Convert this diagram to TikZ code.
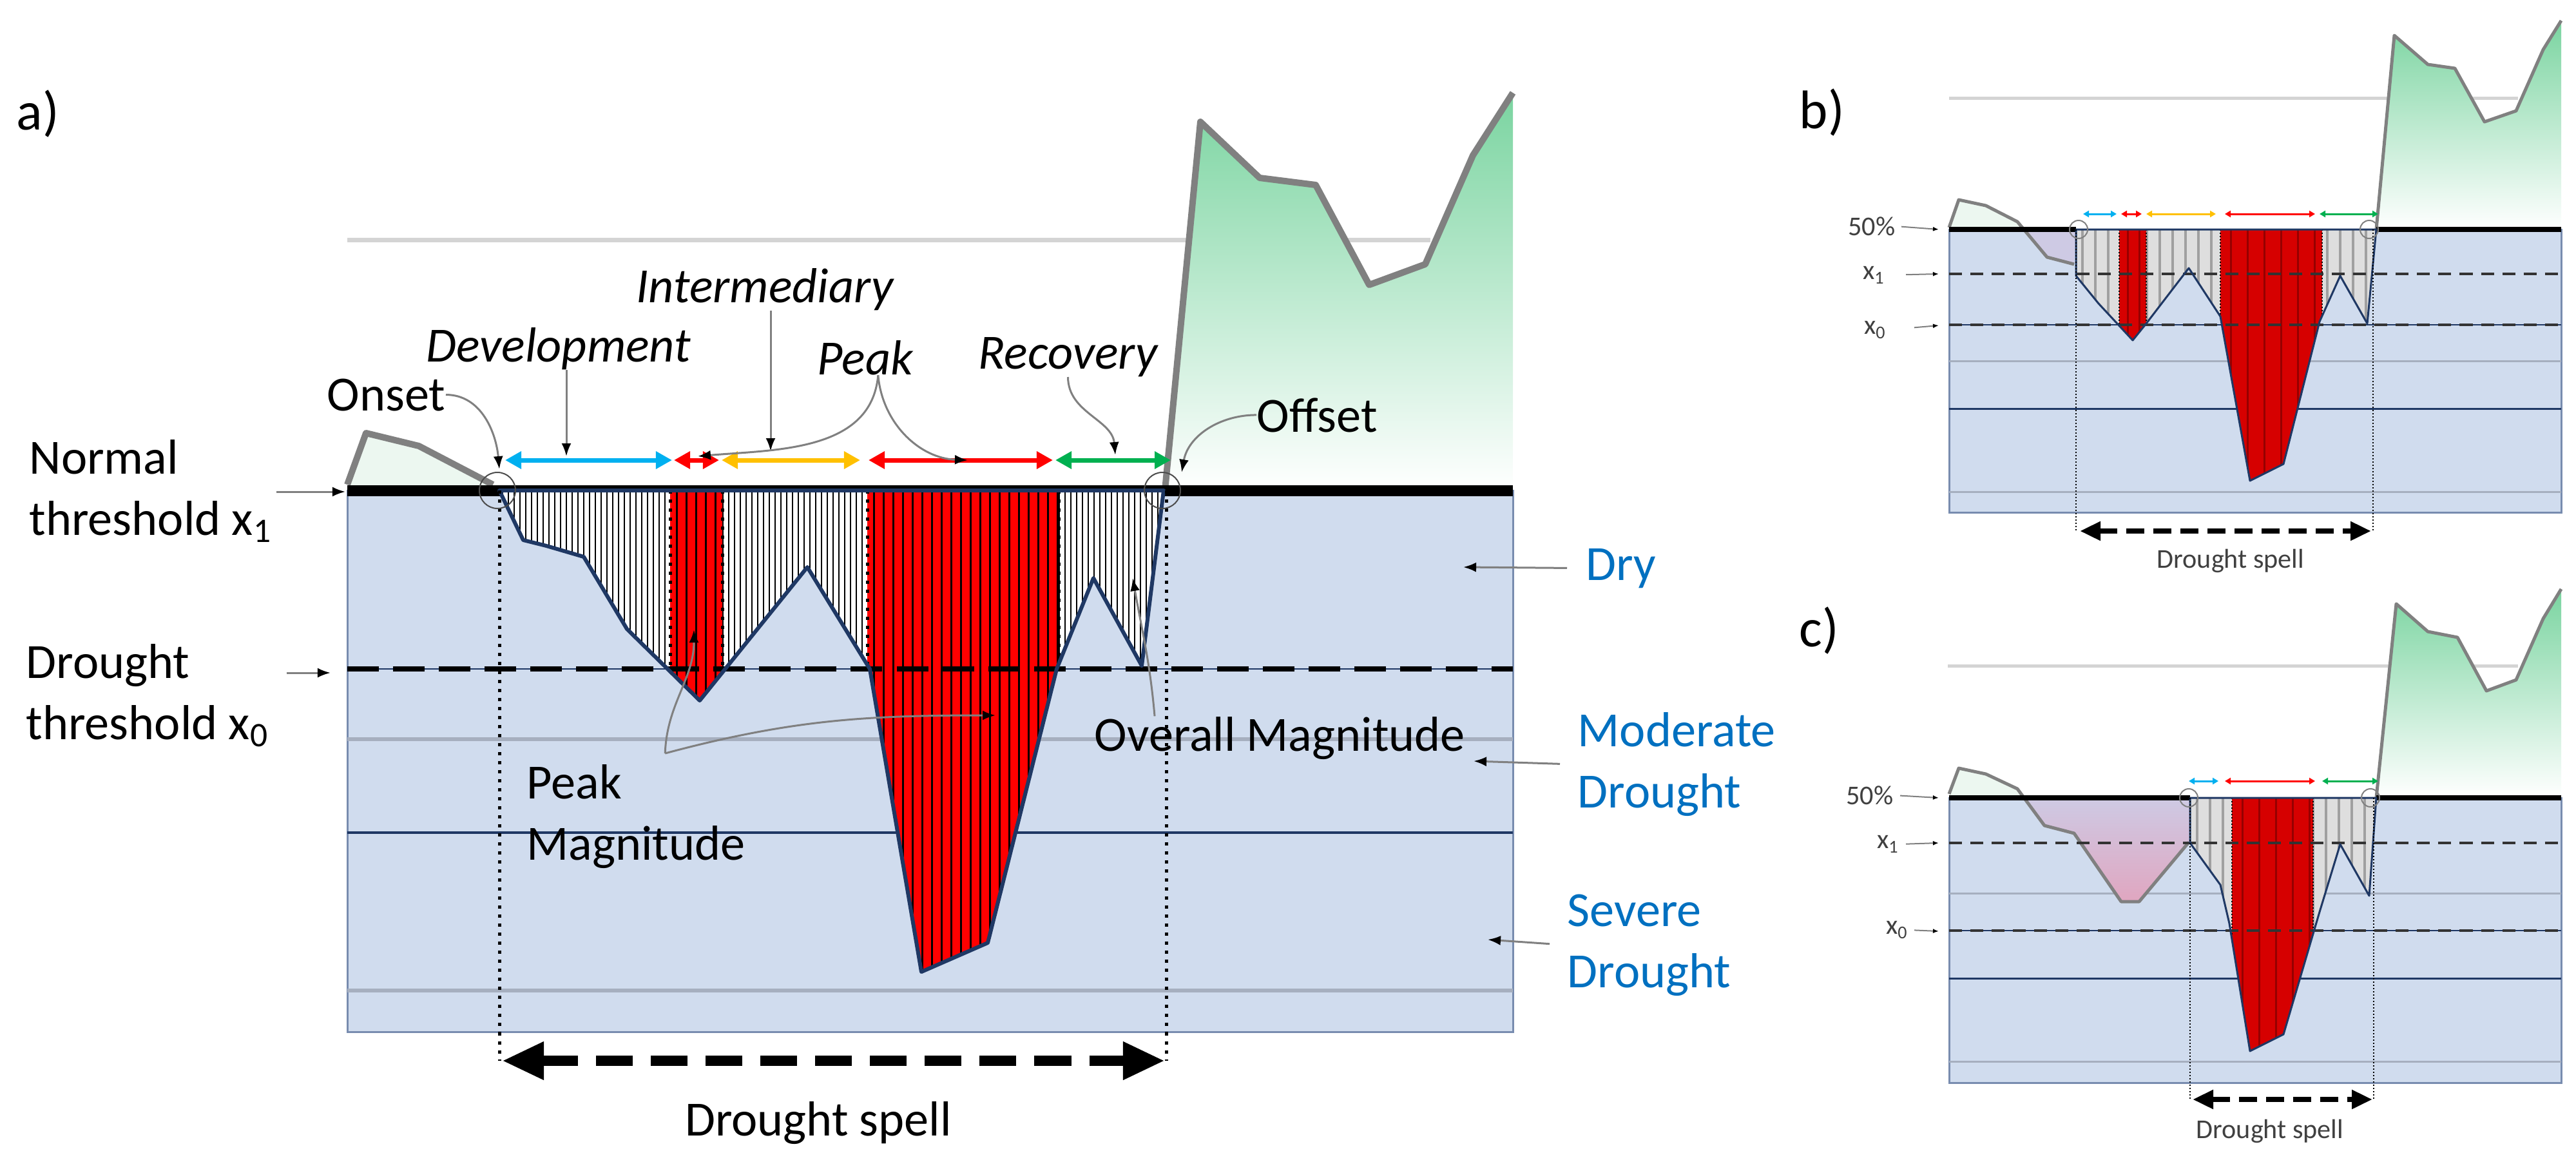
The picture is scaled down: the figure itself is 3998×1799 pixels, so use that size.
\documentclass[tikz,border=0pt]{standalone}
\usepackage{fontspec}
\setmainfont{Carlito}
\usetikzlibrary{arrows.meta}

\definecolor{boxblue}{RGB}{208,220,238}
\definecolor{boxedge}{RGB}{120,140,175}
\definecolor{navy}{RGB}{31,56,100}
\definecolor{zonetext}{RGB}{0,112,192}
\definecolor{curvegray}{RGB}{128,128,128}
\definecolor{topgray}{RGB}{212,212,212}
\definecolor{bandgray}{RGB}{166,175,191}
\definecolor{phblue}{RGB}{0,176,240}
\definecolor{phred}{RGB}{255,0,0}
\definecolor{phyellow}{RGB}{255,192,0}
\definecolor{phgreen}{RGB}{0,176,80}
\definecolor{wetgreen}{RGB}{122,212,160}
\definecolor{bumpgreen}{RGB}{236,247,240}
\definecolor{lavender}{RGB}{206,202,228}
\definecolor{pinkdry}{RGB}{224,166,192}
\definecolor{smalltext}{RGB}{64,64,64}
\definecolor{hatchgray}{RGB}{222,222,222}
\definecolor{hatchdark}{RGB}{160,160,160}
\definecolor{darkred}{RGB}{214,0,0}
\definecolor{deepred}{RGB}{150,0,0}

\newcommand\bigfont{\fontsize{21.7pt}{27pt}\selectfont}
\newcommand\tagfont{\fontsize{24pt}{28pt}\selectfont}
\newcommand\smallfont{\fontsize{12pt}{14pt}\selectfont}

% drought areas below the normal threshold
\newcommand\curveA{(775,761) -- (812,838) -- (848,847) -- (906,864) -- (973,976) -- (1086,1087) -- (1253,880) -- (1350,1038) -- (1430,1508) -- (1533,1463) -- (1640,1038) -- (1697,897) -- (1772,1033) -- (1806,761) -- cycle}
\newcommand\curveB{(3222,356) -- (3222,428) -- (3257,471) -- (3310,528) -- (3331,502) -- (3397,416) -- (3446,491) -- (3492,746) -- (3544,720) -- (3600,499) -- (3632,428) -- (3674,502) -- (3688,356) -- cycle}
\newcommand\curveC{(3399,1238) -- (3399,1308) -- (3446,1373) -- (3460,1433) -- (3492,1631) -- (3544,1605) -- (3600,1415) -- (3632,1310) -- (3677,1390) -- (3688,1238) -- cycle}

\begin{document}
\begin{tikzpicture}[x=0.01cm,y=-0.01cm,
    lbl/.style={inner sep=0pt, font=\bigfont},
    phaselbl/.style={lbl, font=\bigfont\itshape},
    zone/.style={lbl, text=zonetext, align=left},
    tag/.style={inner sep=0pt, font=\tagfont},
    smalllbl/.style={inner sep=0pt, font=\smallfont, text=smalltext},
    ann/.style={draw=curvegray, line width=0.03cm, -{Latex[length=0.2cm,width=0.15cm,color=black]}},
    annsmall/.style={draw=curvegray, line width=0.02cm, -{Latex[length=0.09cm,width=0.07cm,color=black]}},
    phase/.style={line width=0.07cm, {Triangle[length=0.25cm,width=0.26cm]}-{Triangle[length=0.25cm,width=0.26cm]}},
    phasesmall/.style={line width=0.03cm, {Triangle[length=0.09cm,width=0.1cm]}-{Triangle[length=0.09cm,width=0.1cm]}},
    spell/.style={line width=0.16cm, dash pattern=on 0.57cm off 0.28cm, {Triangle[length=0.65cm,width=0.55cm]}-{Triangle[length=0.65cm,width=0.55cm]}},
    spellsmall/.style={line width=0.08cm, dash pattern=on 0.28cm off 0.14cm, {Triangle[length=0.32cm,width=0.28cm]}-{Triangle[length=0.32cm,width=0.28cm]}},
    classbox/.style={fill=boxblue, draw=boxedge, line width=0.03cm},
    band/.style={draw=bandgray, line width=0.06cm},
    navyband/.style={draw=navy, line width=0.04cm},
    topline/.style={draw=topgray, line width=0.07cm},
    wetline/.style={draw=curvegray, line width=0.1cm, line join=round},
    droughtline/.style={draw=navy, line width=0.06cm, line join=round},
    thr/.style={line width=0.17cm},
    thrdash/.style={line width=0.08cm, dash pattern=on 0.49cm off 0.22cm},
    dotv/.style={line width=0.05cm, dash pattern=on 0.05cm off 0.09cm},
    ring/.style={draw=black!70, line width=0.02cm},
    hatch/.style={line width=0.02cm},
    hatchred/.style={line width=0.03cm}]
\useasboundingbox (0,0) rectangle (3998,1799);

%%%%%%%%%% panel a %%%%%%%%%%
\draw[topline] (539,372) -- (2220,372);
%Shape: class box
\draw[classbox] (539,761) rectangle (2348,1601);
\draw[band] (539,1147) -- (2348,1147);
\draw[band] (539,1537) -- (2348,1537);
\draw[navyband] (539,1292) -- (2348,1292);
\draw[navy, line width=0.02cm] (539,1038) -- (2348,1038);
% wet periods
\fill[bumpgreen] (539,761) -- (568,672) -- (650,692) -- (765,752) -- (775,761) -- cycle;
\draw[wetline] (539,752) -- (568,672) -- (650,692) -- (765,752);
\shade[top color=wetgreen, bottom color=white] (1808,761) -- (1863,189) -- (1955,276) -- (2042,287) -- (2125,442) -- (2212,410) -- (2286,241) -- (2348,144) -- (2348,761) -- cycle;
\draw[wetline] (1808,761) -- (1863,189) -- (1955,276) -- (2042,287) -- (2125,442) -- (2212,410) -- (2286,241) -- (2348,144);
%Straight Lines: normal threshold
\draw[thr] (539,761) -- (2348,761);
% drought area
\begin{scope}
  \clip \curveA;
  \fill[white] (770,750) rectangle (1815,1520);
  \foreach \x in {780,789,...,1810} \draw[hatch] (\x,750) -- (\x,1520);
  \fill[phred] (1040,750) rectangle (1121,1520);
  \fill[phred] (1346,750) rectangle (1643,1520);
  \foreach \x in {1050,1065,...,1121} \draw[hatchred] (\x,750) -- (\x,1520);
  \foreach \x in {1356,1371,...,1643} \draw[hatchred] (\x,750) -- (\x,1520);
  \foreach \x in {1040,1121,1346,1643} \draw[dotv] (\x,761) -- (\x,1110);
\end{scope}
\draw[thrdash] (539,1038) -- (2348,1038);
\draw[droughtline] \curveA;

% onset and offset
\coordinate (onsetA) at (775,761);
\coordinate (offsetA) at (1810,761);
\coordinate (spellaL) at (779,1646);
\coordinate (spellaR) at (1808,1646);
\draw[dotv] (onsetA) -- (onsetA |- spellaL);
\draw[dotv] (offsetA) -- (offsetA |- spellaR);
\draw[ring] (772,761) circle[radius=28];
\draw[ring] (1804,761) circle[radius=28];
\draw[spell] (spellaL) -- (spellaR);

% phases
\draw[phase, phblue] (784,714) -- (1043,714);
\draw[phase, phred] (1046,714) -- (1116,714);
\draw[phase, phyellow] (1120,714) -- (1335,714);
\draw[phase, phred] (1348,714) -- (1634,714);
\draw[phase, phgreen] (1638,714) -- (1817,714);

% Text Node
\node[tag, anchor=base west] (taga) at (25,201) {a)};
\node[lbl, align=left, anchor=north west] (normal) at (45,682) {Normal\\threshold x\textsubscript{1}};
\node[lbl, align=left, anchor=north west] (dthr) at (40,999) {Drought\\threshold x\textsubscript{0}};
\node[lbl, anchor=base west] (onset) at (507,637) {Onset};
\node[phaselbl, anchor=base west] (dev) at (661,561) {Development};
\node[phaselbl, anchor=base west] (inter) at (987,469) {Intermediary};
\node[phaselbl, anchor=base west] (peak) at (1268,581) {Peak};
\node[phaselbl, anchor=base west] (rec) at (1518,572) {Recovery};
\node[lbl, anchor=base west] (offs) at (1950,670) {Offset};
\node[lbl, anchor=base west] (overall) at (1698,1165) {Overall Magnitude};
\node[lbl, align=left, anchor=north west] (pkmag) at (817,1186) {Peak\\Magnitude};
\node[zone, anchor=base west] (dry) at (2461,900) {Dry};
\node[zone, anchor=north west] (moder) at (2448,1105) {Moderate\\Drought};
\node[zone, anchor=north west] (severe) at (2432,1387) {Severe\\Drought};
\node[lbl, anchor=base] (spella) at (1270,1762) {Drought spell};

% annotation arrows
\coordinate (normtip) at (536,763);
\coordinate (dthrtip) at (513,1044);
\coordinate (onsettip) at (775,728);
\coordinate (devtip) at (879,708);
\coordinate (intertip) at (1196,700);
\coordinate (peaktipL) at (1083,708);
\coordinate (peaktipR) at (1502,714);
\coordinate (rectip) at (1731,706);
\coordinate (offtip) at (1834,733);
\coordinate (ovtip) at (1758,897);
\coordinate (pmtipL) at (1077,977);
\coordinate (pmtipR) at (1545,1110);
\coordinate (drytip) at (2271,880);
\coordinate (modtip) at (2287,1181);
\coordinate (sevtip) at (2309,1458);
\draw[ann, shorten <=0.06cm] (normal.east |- normtip) -- (normtip);
\draw[ann, shorten <=0.27cm] (dthr.east |- dthrtip) -- (dthrtip);
\draw[ann] (onset.east) to[out=0,in=95] (onsettip);
\draw[ann] (dev.south -| devtip) -- (devtip);
\draw[ann] (inter.south -| intertip) -- (intertip);
\draw[ann] ([xshift=0.2cm]peak.south) to[out=-95,in=5] (peaktipL);
\draw[ann] ([xshift=0.2cm]peak.south) to[out=-85,in=178] (peaktipR);
\draw[ann] (rec.south) to[out=-90,in=95] (rectip);
\draw[ann] (offs.west) to[out=180,in=80] (offtip);
\draw[ann] ([xshift=0.94cm]overall.north west) to[out=95,in=-80] (ovtip);
\coordinate (pmapex) at ([shift={(45,-17)}]pkmag.north);
\draw[ann] (pmapex) to[out=88,in=-90] (pmtipL);
\draw[ann] (pmapex) to[out=15,in=180] (pmtipR);
\draw[ann, shorten <=0.29cm] (dry.west) -- (drytip);
\draw[ann, shorten <=0.27cm] (moder.west) -- (modtip);
\draw[ann, shorten <=0.27cm] (severe.west) -- (sevtip);

%%%%%%%%%% panel b %%%%%%%%%%
\draw[topline, line width=0.05cm] (3025,152) -- (3908,152);
\draw[classbox] (3025,356) rectangle (3975,795);
\draw[band, line width=0.03cm] (3025,560) -- (3975,560);
\draw[band, line width=0.03cm] (3025,763) -- (3975,763);
\draw[navyband, line width=0.03cm] (3025,634) -- (3975,634);
\draw[navy, line width=0.015cm] (3025,504) -- (3975,504);
\fill[bumpgreen] (3025,356) -- (3040,310) -- (3082,319) -- (3131,344) -- (3141,356) -- cycle;
\fill[lavender] (3141,356) -- (3177,399) -- (3219,410) -- (3222,356) -- cycle;
\draw[wetline, line width=0.05cm] (3025,353) -- (3040,310) -- (3082,319) -- (3131,344) -- (3177,399) -- (3219,410);
\shade[top color=wetgreen, bottom color=white] (3691,356) -- (3716,55) -- (3768,100) -- (3810,106) -- (3856,189) -- (3905,172) -- (3947,77) -- (3975,32) -- (3975,356) -- cycle;
\draw[wetline, line width=0.05cm] (3688,356) -- (3716,55) -- (3768,100) -- (3810,106) -- (3856,189) -- (3905,172) -- (3947,77) -- (3975,32);
\draw[line width=0.08cm] (3025,356) -- (3222,356);
\draw[line width=0.08cm] (3688,356) -- (3975,356);
\begin{scope}
  \clip \curveB;
  \fill[hatchgray] (3215,350) rectangle (3695,760);
  \foreach \x in {3232,3252,...,3690} \draw[hatchdark, line width=0.035cm] (\x,350) -- (\x,760);
  \fill[darkred] (3289,350) rectangle (3331,760);
  \fill[darkred] (3446,350) rectangle (3604,760);
  \foreach \x in {3302,3320} \draw[deepred, line width=0.03cm] (\x,350) -- (\x,760);
  \foreach \x in {3462,3488,...,3604} \draw[deepred, line width=0.03cm] (\x,350) -- (\x,760);
  \foreach \x in {3289,3331,3446,3604} \draw[dotv, line width=0.02cm, dash pattern=on 0.02cm off 0.03cm] (\x,356) -- (\x,540);
\end{scope}
\draw[thrdash, line width=0.04cm, dash pattern=on 0.2cm off 0.13cm, black!80] (3025,425) -- (3975,425);
\draw[thrdash, line width=0.04cm, dash pattern=on 0.2cm off 0.13cm, black!80] (3025,504) -- (3975,504);
\draw[droughtline, line width=0.03cm] \curveB;
\coordinate (onsetB) at (3222,356);
\coordinate (offsetB) at (3683,356);
\coordinate (spellbL) at (3228,824);
\coordinate (spellbR) at (3680,824);
\draw[dotv, line width=0.02cm, dash pattern=on 0.02cm off 0.03cm] (onsetB) -- (onsetB |- spellbL);
\draw[dotv, line width=0.02cm, dash pattern=on 0.02cm off 0.03cm] (offsetB) -- (offsetB |- spellbR);
\draw[ring, black!50] (3226,356) circle[radius=14];
\draw[ring, black!50] (3677,356) circle[radius=14];
\draw[spellsmall] (spellbL) -- (spellbR);
\draw[phasesmall, phblue] (3233,332) -- (3285,332);
\draw[phasesmall, phred] (3292,332) -- (3324,332);
\draw[phasesmall, phyellow] (3331,332) -- (3439,332);
\draw[phasesmall, phred] (3453,332) -- (3593,332);
\draw[phasesmall, phgreen] (3600,332) -- (3691,332);
% Text Node
\node[tag, anchor=base west] (tagb) at (2792,199) {b)};
\node[smalllbl, anchor=east] (bmid) at (2942,351) {50\%};
\node[smalllbl, anchor=east] (bxone) at (2926,427) {x\textsubscript{1}};
\node[smalllbl, anchor=east] (bxzero) at (2928,512) {x\textsubscript{0}};
\node[smalllbl, anchor=base] (spellb) at (3462,881) {Drought spell};
\coordinate (bmidtip) at (3009,356);
\coordinate (bxonetip) at (3009,425);
\coordinate (bxzerotip) at (3009,505);
\draw[annsmall, shorten <=0.09cm] (bmid.east) -- (bmidtip);
\draw[annsmall, shorten <=0.32cm] (bxone.east) -- (bxonetip);
\draw[annsmall, shorten <=0.43cm] (bxzero.east) -- (bxzerotip);

%%%%%%%%%% panel c %%%%%%%%%%
\draw[topline, line width=0.05cm] (3023,1033) -- (3908,1033);
\draw[classbox] (3025,1238) rectangle (3975,1680);
\draw[band, line width=0.03cm] (3025,1386) -- (3975,1386);
\draw[band, line width=0.03cm] (3025,1647) -- (3975,1647);
\draw[navyband, line width=0.03cm] (3025,1518) -- (3975,1518);
\draw[navy, line width=0.015cm] (3025,1444) -- (3975,1444);
\fill[bumpgreen] (3025,1238) -- (3040,1192) -- (3082,1201) -- (3131,1224) -- (3141,1238) -- cycle;
\shade[top color=lavender, bottom color=pinkdry] (3141,1238) -- (3173,1281) -- (3219,1293) -- (3292,1399) -- (3320,1399) -- (3397,1307) -- (3399,1238) -- cycle;
\draw[wetline, line width=0.05cm] (3025,1232) -- (3040,1192) -- (3082,1201) -- (3131,1224) -- (3173,1281) -- (3219,1293) -- (3292,1399) -- (3320,1399) -- (3397,1307);
\shade[top color=wetgreen, bottom color=white] (3691,1238) -- (3719,937) -- (3768,980) -- (3814,989) -- (3859,1072) -- (3905,1055) -- (3947,960) -- (3975,914) -- (3975,1238) -- cycle;
\draw[wetline, line width=0.05cm] (3688,1238) -- (3719,937) -- (3768,980) -- (3814,989) -- (3859,1072) -- (3905,1055) -- (3947,960) -- (3975,914);
\draw[line width=0.08cm] (3025,1238) -- (3399,1238);
\draw[line width=0.08cm] (3688,1238) -- (3975,1238);
\begin{scope}
  \clip \curveC;
  \fill[hatchgray] (3390,1230) rectangle (3695,1640);
  \foreach \x in {3410,3430,...,3690} \draw[hatchdark, line width=0.035cm] (\x,1230) -- (\x,1640);
  \fill[darkred] (3464,1230) rectangle (3590,1640);
  \foreach \x in {3480,3506,...,3590} \draw[deepred, line width=0.03cm] (\x,1230) -- (\x,1640);
  \foreach \x in {3464,3590} \draw[dotv, line width=0.02cm, dash pattern=on 0.02cm off 0.03cm] (\x,1238) -- (\x,1460);
\end{scope}
\draw[thrdash, line width=0.04cm, dash pattern=on 0.2cm off 0.13cm, black!80] (3025,1308) -- (3975,1308);
\draw[thrdash, line width=0.04cm, dash pattern=on 0.2cm off 0.13cm, black!80] (3025,1444) -- (3975,1444);
\draw[droughtline, line width=0.03cm] \curveC;
\coordinate (onsetC) at (3399,1238);
\coordinate (offsetC) at (3684,1238);
\coordinate (spellcL) at (3403,1706);
\coordinate (spellcR) at (3682,1706);
\draw[dotv, line width=0.02cm, dash pattern=on 0.02cm off 0.03cm] (onsetC) -- (onsetC |- spellcL);
\draw[dotv, line width=0.02cm, dash pattern=on 0.02cm off 0.03cm] (offsetC) -- (offsetC |- spellcR);
\draw[ring, black!50] (3397,1238) circle[radius=14];
\draw[ring, black!50] (3679,1238) circle[radius=14];
\draw[spellsmall] (spellcL) -- (spellcR);
\draw[phasesmall, phblue] (3397,1212) -- (3443,1212);
\draw[phasesmall, phred] (3453,1212) -- (3593,1212);
\draw[phasesmall, phgreen] (3604,1212) -- (3691,1212);
% Text Node
\node[tag, anchor=base west] (tagc) at (2792,1003) {c)};
\node[smalllbl, anchor=east] (cmid) at (2939,1234) {50\%};
\node[smalllbl, anchor=east] (cxone) at (2948,1310) {x\textsubscript{1}};
\node[smalllbl, anchor=east] (cxzero) at (2962,1443) {x\textsubscript{0}};
\node[smalllbl, anchor=base] (spellc) at (3523,1766) {Drought spell};
\coordinate (cmidtip) at (3009,1238);
\coordinate (cxonetip) at (3009,1308);
\coordinate (cxzerotip) at (3009,1445);
\draw[annsmall, shorten <=0.1cm] (cmid.east) -- (cmidtip);
\draw[annsmall, shorten <=0.1cm] (cxone.east) -- (cxonetip);
\draw[annsmall, shorten <=0.09cm] (cxzero.east) -- (cxzerotip);
\end{tikzpicture}
\end{document}
